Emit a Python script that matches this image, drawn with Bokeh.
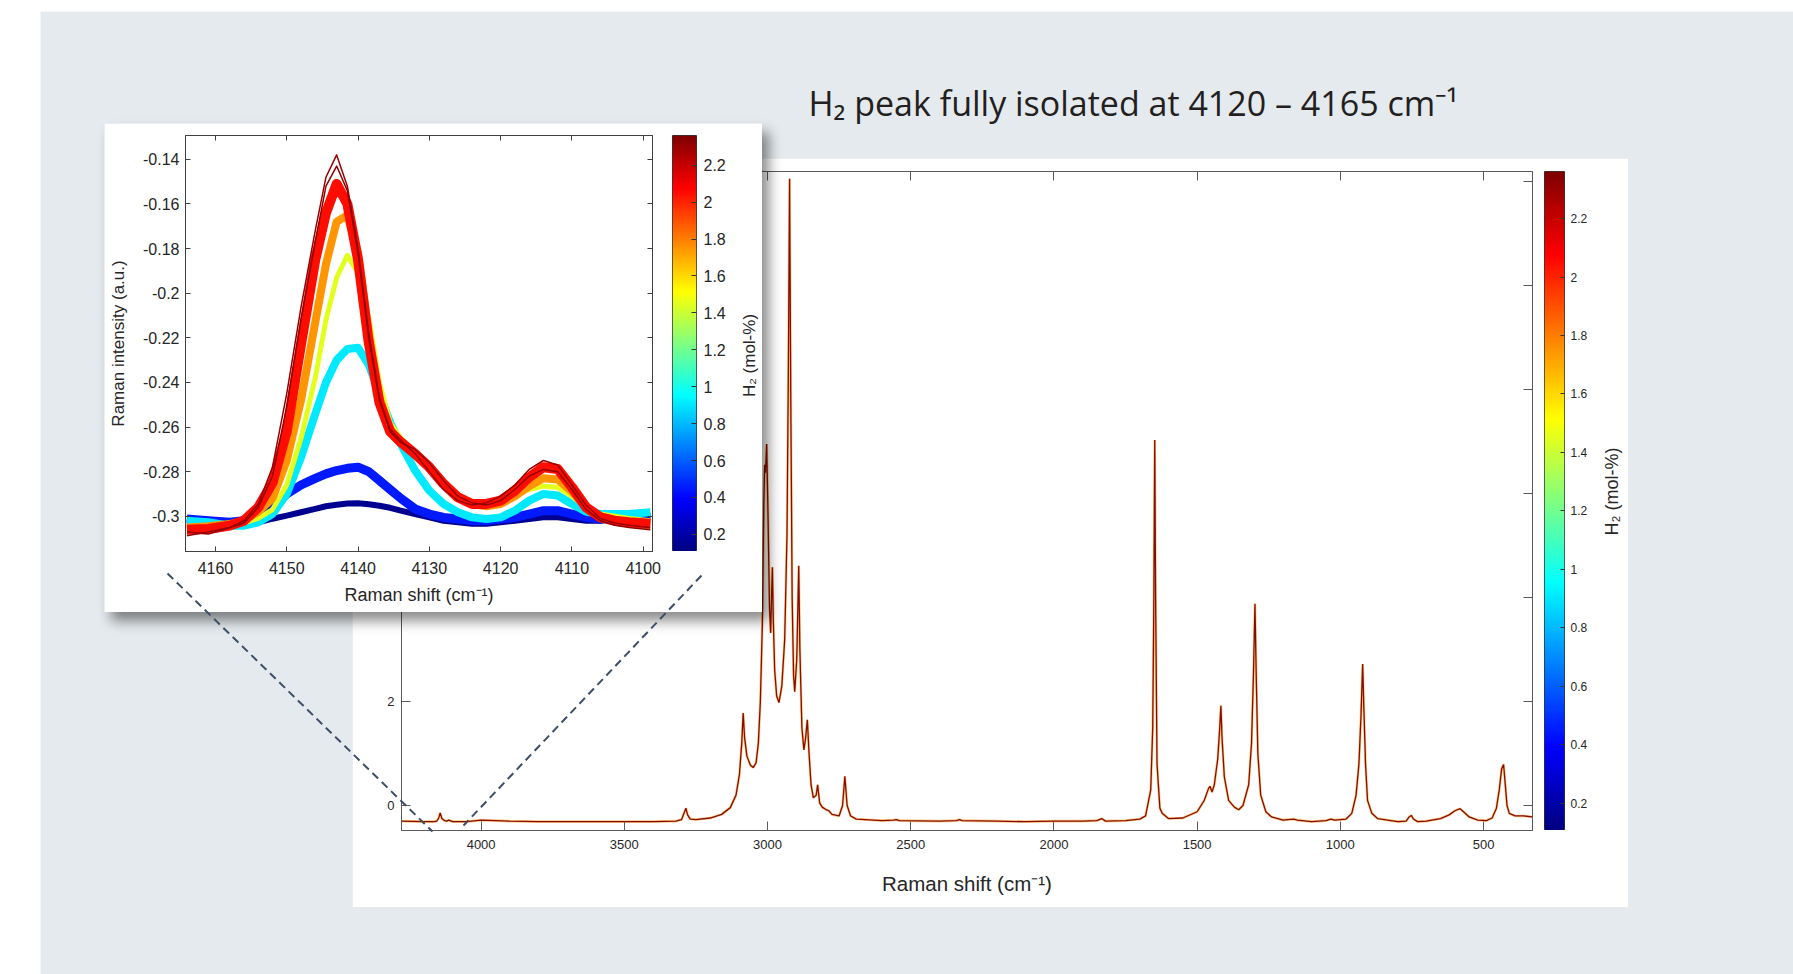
import math
import numpy as np
from bokeh.plotting import figure
from bokeh.models import (Range1d, LinearAxis, FixedTicker, NumeralTickFormatter, Label,
                          ColumnDataSource, LinearColorMapper)
from bokeh.embed import file_html
from bokeh.resources import INLINE
from bokeh.transform import linear_cmap

# ------------------------------------------------------------------ data
TITLE = "H\u2082 peak fully isolated at 4120 \u2013 4165 cm\u207b\u00b9"
X_LABEL = "Raman shift (cm\u207b\u00b9)"
Y_LABEL_INSET = "Raman intensity (a.u.)"
CBAR_LABEL = "H\u2082 (mol-%)"

# full spectrum (Raman shift in cm-1, intensity a.u.)
main_shift = [4278, 4200, 4165, 4155, 4148, 4143, 4137, 4128, 4120, 4113,
              4100, 4050, 4000, 3950, 3900, 3800, 3700, 3600, 3500, 3400,
              3320, 3300, 3291, 3285, 3279, 3270, 3250, 3200, 3160, 3130,
              3110, 3098, 3090, 3085, 3080, 3072, 3060, 3050, 3040, 3032,
              3025, 3018, 3013, 3010, 3007, 3003, 2998, 2993, 2989, 2986,
              2983, 2980, 2975, 2968, 2960, 2950, 2940, 2932, 2927, 2923,
              2919, 2914, 2909, 2905, 2898, 2894, 2891, 2887, 2880, 2873,
              2867, 2861, 2855, 2848, 2840, 2830, 2825, 2818, 2809, 2795,
              2786, 2775, 2750, 2738, 2730, 2722, 2710, 2690, 2600, 2560,
              2550, 2540, 2400, 2340, 2330, 2320, 2200, 2100, 2000, 1900,
              1850, 1833, 1820, 1750, 1700, 1680, 1662, 1655, 1651, 1648,
              1645, 1640, 1630, 1622, 1600, 1550, 1500, 1475, 1460, 1455,
              1448, 1440, 1428, 1421, 1417, 1413, 1405, 1390, 1370, 1355,
              1340, 1320, 1310, 1303, 1298, 1294, 1288, 1278, 1260, 1240,
              1200, 1164, 1150, 1100, 1050, 1033, 1020, 980, 960, 945,
              935, 928, 922, 918, 912, 905, 890, 870, 800, 770,
              760, 752, 745, 730, 700, 650, 620, 600, 582, 570,
              550, 520, 490, 470, 455, 445, 437, 430, 424, 418,
              410, 390, 360, 329]
main_intensity = [-0.30, -0.31, -0.31, -0.30, -0.24, -0.14, -0.25, -0.29, -0.30, -0.28,
                  -0.31, -0.31, -0.28, -0.29, -0.30, -0.31, -0.31, -0.31, -0.31, -0.31,
                  -0.30, -0.27, -0.14, -0.05, -0.18, -0.26, -0.27, -0.24, -0.17, -0.04,
                  0.20, 0.60, 1.20, 1.78, 1.30, 0.95, 0.78, 0.73, 0.82, 1.20,
                  2.00, 3.50, 5.80, 6.55, 6.40, 6.95, 5.50, 3.80, 3.32, 4.00,
                  4.58, 3.60, 2.60, 2.10, 1.98, 2.30, 3.20, 5.20, 8.50, 12.05,
                  8.00, 4.00, 2.50, 2.19, 2.80, 3.80, 4.61, 3.00, 1.50, 1.07,
                  1.30, 1.65, 1.00, 0.40, 0.15, 0.20, 0.40, 0.05, -0.03, -0.08,
                  -0.10, -0.17, -0.20, 0.00, 0.56, 0.00, -0.20, -0.26, -0.29, -0.28,
                  -0.27, -0.29, -0.30, -0.29, -0.27, -0.29, -0.30, -0.31, -0.30, -0.30,
                  -0.29, -0.25, -0.30, -0.29, -0.26, -0.20, 0.30, 1.50, 4.00, 7.03,
                  4.00, 0.80, -0.05, -0.15, -0.25, -0.24, -0.12, 0.10, 0.33, 0.37,
                  0.26, 0.40, 0.90, 1.50, 1.92, 1.30, 0.55, 0.10, -0.03, -0.08,
                  0.00, 0.40, 1.20, 2.60, 3.88, 2.60, 1.00, 0.20, -0.12, -0.22,
                  -0.28, -0.26, -0.28, -0.31, -0.29, -0.26, -0.28, -0.26, -0.15, 0.20,
                  0.80, 1.70, 2.72, 1.90, 0.80, 0.10, -0.15, -0.25, -0.31, -0.30,
                  -0.22, -0.19, -0.26, -0.31, -0.30, -0.25, -0.18, -0.10, -0.06, -0.12,
                  -0.22, -0.28, -0.29, -0.24, -0.05, 0.30, 0.70, 0.79, 0.40, 0.00,
                  -0.15, -0.20, -0.20, -0.22]
main_conc = [1.75, 2.36]        # H2 mol-% of the two overlaid full spectra

# inset: H2 band, one curve per concentration group
inset_shift = [4164, 4161, 4158, 4156, 4154, 4152, 4150, 4148, 4146, 4144.5,
               4143, 4141.5, 4140, 4138.5, 4137, 4135.5, 4134, 4132, 4130, 4128,
               4126, 4124, 4122, 4120, 4118, 4116, 4114, 4112, 4110, 4108,
               4106, 4104, 4102, 4099]
h2_015 = [-0.3011, -0.3019, -0.3034, -0.3034, -0.3027, -0.3011, -0.2997, -0.2982, -0.2967, -0.2955,
          -0.2948, -0.2943, -0.2942, -0.2946, -0.2953, -0.2962, -0.2975, -0.2990, -0.3005, -0.3020,
          -0.3027, -0.3034, -0.3034, -0.3027, -0.3020, -0.3012, -0.3005, -0.3005, -0.3012, -0.3020,
          -0.3020, -0.3012, -0.3005, -0.3005]
h2_045 = [-0.3012, -0.3020, -0.3027, -0.3020, -0.3005, -0.2960, -0.2900, -0.2860, -0.2830, -0.2810,
          -0.2795, -0.2785, -0.2780, -0.2800, -0.2840, -0.2880, -0.2920, -0.2967, -0.2990, -0.3005,
          -0.3012, -0.3020, -0.3020, -0.3012, -0.3005, -0.2990, -0.2975, -0.2975, -0.2990, -0.3005,
          -0.3012, -0.3005, -0.3005, -0.3005]
h2_090 = [-0.3020, -0.3027, -0.3042, -0.3042, -0.3027, -0.2990, -0.2900, -0.2736, -0.2541, -0.2400,
          -0.2300, -0.2250, -0.2245, -0.2320, -0.2450, -0.2580, -0.2676, -0.2795, -0.2885, -0.2945,
          -0.2982, -0.3005, -0.3012, -0.3005, -0.2975, -0.2930, -0.2900, -0.2907, -0.2945, -0.2980,
          -0.2990, -0.2990, -0.2990, -0.2982]
h2_145 = [-0.3050, -0.3045, -0.3040, -0.3030, -0.3010, -0.2970, -0.2860, -0.2650, -0.2380, -0.2120,
          -0.1930, -0.1830, -0.1910, -0.2110, -0.2400, -0.2580, -0.2650, -0.2710, -0.2780, -0.2850,
          -0.2910, -0.2940, -0.2950, -0.2935, -0.2905, -0.2880, -0.2865, -0.2870, -0.2910, -0.2960,
          -0.2990, -0.3000, -0.3010, -0.3020]
h2_175 = [-0.3050, -0.3045, -0.3035, -0.3020, -0.2980, -0.2920, -0.2750, -0.2480, -0.2130, -0.1870,
          -0.1680, -0.1650, -0.1820, -0.2180, -0.2470, -0.2610, -0.2670, -0.2720, -0.2780, -0.2855,
          -0.2910, -0.2945, -0.2955, -0.2945, -0.2910, -0.2865, -0.2830, -0.2835, -0.2890, -0.2960,
          -0.3000, -0.3020, -0.3030, -0.3040]
h2_205 = [-0.3060, -0.3057, -0.3042, -0.3020, -0.2960, -0.2850, -0.2620, -0.2230, -0.1850, -0.1640,
          -0.1510, -0.1600, -0.1850, -0.2220, -0.2490, -0.2620, -0.2668, -0.2720, -0.2780, -0.2855,
          -0.2915, -0.2945, -0.2945, -0.2930, -0.2885, -0.2825, -0.2780, -0.2788, -0.2870, -0.2960,
          -0.3005, -0.3020, -0.3027, -0.3034]
h2_230 = [-0.3087, -0.3070, -0.3050, -0.3020, -0.2945, -0.2780, -0.2450, -0.2063, -0.1719, -0.1480,
          -0.1380, -0.1520, -0.1800, -0.2180, -0.2470, -0.2610, -0.2660, -0.2720, -0.2800, -0.2880,
          -0.2930, -0.2950, -0.2940, -0.2910, -0.2860, -0.2790, -0.2750, -0.2770, -0.2860, -0.2950,
          -0.3010, -0.3030, -0.3040, -0.3050]
h2_232 = [-0.3070, -0.3080, -0.3050, -0.3030, -0.2960, -0.2820, -0.2510, -0.2120, -0.1770, -0.1520,
          -0.1430, -0.1540, -0.1820, -0.2200, -0.2480, -0.2620, -0.2670, -0.2700, -0.2760, -0.2840,
          -0.2910, -0.2940, -0.2950, -0.2930, -0.2880, -0.2820, -0.2790, -0.2800, -0.2880, -0.2970,
          -0.3020, -0.3040, -0.3050, -0.3060]
inset_curves = [h2_015, h2_045, h2_090, h2_145, h2_175, h2_205, h2_230, h2_232]
inset_conc = [0.15, 0.45, 0.90, 1.45, 1.75, 2.05, 2.30, 2.32]

main_xticks = [4000, 3500, 3000, 2500, 2000, 1500, 1000, 500]
main_yticks = [0, 2, 4, 6, 8, 10, 12]
inset_xticks = [4160, 4150, 4140, 4130, 4120, 4110, 4100]
inset_yticks = [-0.30, -0.28, -0.26, -0.24, -0.22, -0.20, -0.18, -0.16, -0.14]
cbar_ticks = [0.2, 0.4, 0.6, 0.8, 1.0, 1.2, 1.4, 1.6, 1.8, 2.0, 2.2]
H2_LOW, H2_HIGH = 0.107, 2.361

# ------------------------------------------------------------------ style
BG = "#e5eaee"
FONT = "Liberation Sans"
TXT = "#262626"


def jet_hex(t):
    r = min(max(1.5 - abs(4 * t - 3), 0), 1)
    g = min(max(1.5 - abs(4 * t - 2), 0), 1)
    b = min(max(1.5 - abs(4 * t - 1), 0), 1)
    return "#%02x%02x%02x" % (round(r * 255), round(g * 255), round(b * 255))


JET = [jet_hex(i / 255) for i in range(256)]


def place(x, y, extra=None):
    s = {"position": "absolute", "left": f"{x}px", "top": f"{y}px"}
    if extra:
        s.update(extra)
    return s


def base_fig(w, h, xr, yr, pos, **kw):
    f = figure(width=w, height=h, x_range=xr, y_range=yr, output_backend="svg",
               toolbar_location=None, tools="", title=None, styles=pos, **kw)
    f.grid.visible = False
    return f


def style_axis(ax, ticks, size, tick_in, standoff, line_color, fmt=None, show_labels=True):
    ax.ticker = FixedTicker(ticks=ticks)
    ax.major_tick_in = tick_in
    ax.major_tick_out = 0
    ax.minor_tick_line_color = None
    ax.major_tick_line_color = line_color
    ax.axis_line_color = line_color
    ax.major_label_text_font = FONT
    ax.major_label_standoff = standoff
    if show_labels:
        ax.major_label_text_font_size = f"{size}px"
        ax.major_label_text_color = TXT
    else:
        ax.major_label_text_font_size = "1px"
        ax.major_label_text_color = None
    ax.axis_label_text_font = FONT
    ax.axis_label_text_font_style = "normal"
    ax.axis_label_text_color = TXT
    if fmt is not None:
        ax.formatter = fmt


# ------------------------------------------------------------------ background page
bg = base_fig(1753, 963, Range1d(0, 1753), Range1d(963, 0), place(40, 11),
              x_axis_location=None, y_axis_location=None, min_border=0)
bg.background_fill_color = BG
bg.border_fill_color = BG
bg.outline_line_color = None
bg.add_layout(Label(x=768, y=91, text=TITLE, text_font="Open Sans",
                    text_font_size="34px", text_color="#231f20",
                    text_align="left", text_baseline="alphabetic"))

# ------------------------------------------------------------------ main spectrum
MAIN_AX = "#5a5a5a"
main = base_fig(1276, 749, Range1d(4278, 329), Range1d(-0.48, 12.19), place(352, 158),
                min_border_left=49, min_border_right=96, min_border_top=13, min_border_bottom=77)
main.background_fill_color = "white"
main.border_fill_color = "white"
main.outline_line_color = MAIN_AX
main_src = ColumnDataSource(dict(xs=[main_shift, main_shift], ys=[main_intensity, main_intensity],
                                 conc=main_conc, w=[2.6, 1.3], a=[0.5, 0.95]))
main.multi_line("xs", "ys", source=main_src, line_width="w", line_alpha="a",
                line_color=linear_cmap("conc", JET, H2_LOW, H2_HIGH))
style_axis(main.xaxis, main_xticks, 13, 9, 9, MAIN_AX)
main.xaxis.axis_label = X_LABEL
main.xaxis.axis_label_text_font_size = "20.5px"
main.xaxis.axis_label_standoff = 20
style_axis(main.yaxis, main_yticks, 13, 9, 7, MAIN_AX)
top_ax = LinearAxis()
style_axis(top_ax, main_xticks, 13, 9, 0, MAIN_AX, show_labels=False)
main.add_layout(top_ax, "above")
right_ax = LinearAxis()
style_axis(right_ax, main_yticks, 13, 9, 0, MAIN_AX, show_labels=False)
main.add_layout(right_ax, "right")


# ------------------------------------------------------------------ colour bars
def make_cbar(left, top, bar_w, bar_h, right_border, size, tick_in, standoff):
    f = base_fig(bar_w + right_border, bar_h, Range1d(0, 1), Range1d(H2_LOW, H2_HIGH),
                 place(left, top), x_axis_location=None, y_axis_location="right",
                 min_border_left=0, min_border_right=right_border,
                 min_border_top=0, min_border_bottom=0)
    f.background_fill_alpha = 0
    f.border_fill_alpha = 0
    f.outline_line_color = "#333333"
    mapper = LinearColorMapper(palette=JET, low=H2_LOW, high=H2_HIGH)
    levels = np.linspace(H2_LOW, H2_HIGH, 256).reshape(256, 1)
    f.image(image=[levels], x=0, y=H2_LOW, dw=1, dh=H2_HIGH - H2_LOW, color_mapper=mapper)
    style_axis(f.yaxis, cbar_ticks, size, tick_in, standoff, "#333333",
               fmt=NumeralTickFormatter(format="0.[0]"))
    f.yaxis.axis_line_color = None
    return f


main_cb = make_cbar(1544, 171, 20, 659, 40, 12, 4, 6)

# ------------------------------------------------------------------ inset
IN_AX = "#404040"
inset = base_fig(658, 489, Range1d(4164.2, 4098.7), Range1d(-0.3158, -0.1293), place(104, 123,
                 {"box-shadow": "7px 9px 12px rgba(0,0,0,0.45)"}),
                 min_border_left=81, min_border_right=110, min_border_top=12, min_border_bottom=61)
inset.background_fill_color = "white"
inset.border_fill_color = "white"
inset.outline_line_color = IN_AX
inset_src = ColumnDataSource(dict(xs=[inset_shift] * len(inset_curves), ys=inset_curves,
                                  conc=inset_conc, w=[6, 9, 8, 5, 8, 10, 1.5, 1.5]))
inset.multi_line("xs", "ys", source=inset_src, line_width="w", line_join="round",
                 line_color=linear_cmap("conc", JET, H2_LOW, H2_HIGH))
style_axis(inset.xaxis, inset_xticks, 16, 5, 10, IN_AX)
inset.xaxis.axis_label = X_LABEL
inset.xaxis.axis_label_text_font_size = "18px"
inset.xaxis.axis_label_standoff = 8
style_axis(inset.yaxis, inset_yticks, 16, 5, 6, IN_AX, fmt=NumeralTickFormatter(format="0.[00]"))
inset.yaxis.axis_label = Y_LABEL_INSET
inset.yaxis.axis_label_text_font_size = "17px"
inset.yaxis.axis_label_standoff = 12
in_top = LinearAxis()
style_axis(in_top, inset_xticks, 16, 5, 0, IN_AX, show_labels=False)
inset.add_layout(in_top, "above")
in_right = LinearAxis()
style_axis(in_right, inset_yticks, 16, 5, 0, IN_AX, show_labels=False)
inset.add_layout(in_right, "right")

inset_cb = make_cbar(672, 135, 24, 416, 45, 16, 5, 7)

# ------------------------------------------------------------------ overlay (zoom guides, colour-bar titles)
ov = base_fig(1753, 963, Range1d(0, 1753), Range1d(963, 0), place(40, 11),
              x_axis_location=None, y_axis_location=None, min_border=0)
ov.background_fill_alpha = 0
ov.border_fill_alpha = 0
ov.outline_line_color = None
ov.segment(x0=[127, 661], y0=[562, 564], x1=[392, 423], y1=[820, 814],
           line_color="#3d4e68", line_width=2, line_dash="8 5")
ov.add_layout(Label(x=709, y=344, text=CBAR_LABEL, angle=math.pi / 2, text_font=FONT,
                    text_font_size="17px", text_color=TXT, text_align="center", text_baseline="middle"))
ov.add_layout(Label(x=1571, y=480, text=CBAR_LABEL, angle=math.pi / 2, text_font=FONT,
                    text_font_size="18px", text_color=TXT, text_align="center", text_baseline="middle"))

p = [bg, main, main_cb, inset, inset_cb, ov]

open("out.html", "w").write(file_html(p, INLINE))
